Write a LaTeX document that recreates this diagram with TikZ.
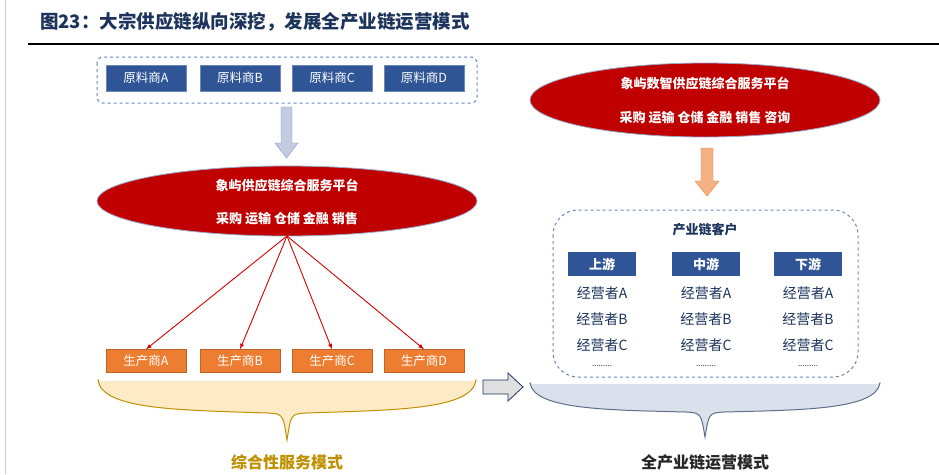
\documentclass[tikz,border=0pt]{standalone}
\usepackage{fontspec}
\setmainfont{Noto Sans CJK SC}
\usetikzlibrary{shapes.geometric}
\definecolor{nav}{HTML}{2F5597}
\definecolor{dred}{HTML}{C00000}
\definecolor{org}{HTML}{ED7D31}
\definecolor{gold}{HTML}{BF9000}
\begin{document}
\begin{tikzpicture}[x=1pt,y=-1pt,
 bb/.style={fill=nav,draw=nav!70,text=white,minimum width=80pt,minimum height=26pt,inner sep=0,font=\fontsize{12.5}{13}\selectfont},
 ob/.style={fill=org,draw=org!80!black,text=white,minimum width=80pt,minimum height=23pt,inner sep=0,font=\fontsize{12.5}{13}\selectfont},
 hb/.style={fill=nav,text=white,minimum width=68pt,minimum height=24pt,inner sep=0,font=\bfseries\fontsize{13}{14}\selectfont},
 it/.style={text=nav!60!black,font=\fontsize{14}{15}\selectfont,inner sep=0},
 el/.style={ellipse,fill=dred,draw=nav!50,line width=0.8pt},
 wt/.style={text=white,font=\bfseries\fontsize{13}{14}\selectfont,inner sep=0},
 dbox/.style={draw=nav!70,dashed,line width=1pt},
 ln/.style={draw=red!85!black,line width=0.9pt,-latex}]
\useasboundingbox (0,0) rectangle (939,474);
\fill[white] (0,0) rectangle (939,474);
\draw[gray!40] (5,0) -- (5,474);
\node[anchor=west,text=nav!60!black,font=\bfseries\fontsize{18.5}{19}\selectfont,inner sep=0] (title) at (40,22) {图23：大宗供应链纵向深挖，发展全产业链运营模式};
\draw[line width=1.5pt] (28,44) -- (939,44);
% left
\draw[dbox,rounded corners=6pt] (97,57) rectangle (477,103);
\node[bb] (r1) at (146,78) {原料商A};
\node[bb] (r2) at (240,78) {原料商B};
\node[bb] (r3) at (332,78) {原料商C};
\node[bb] (r4) at (424,78) {原料商D};
\draw[fill=nav!30,draw=nav!60] (281,107) -- (292,107) -- (292,143) -- (298,143) -- (286.5,158) -- (275,143) -- (281,143) -- cycle;
\node[el,minimum width=380pt,minimum height=70pt] (e1) at (287,201) {};
\node[wt] (e1t) at (287,185) {象屿供应链综合服务平台};
\node[wt] (e1s) at (287,219) {采购\ 运输\ 仓储\ 金融\ 销售};
\node[ob] (p1) at (146,361) {生产商A};
\node[ob] (p2) at (240,361) {生产商B};
\node[ob] (p3) at (332,361) {生产商C};
\node[ob] (p4) at (424,361) {生产商D};
\coordinate (src) at (287,236);
\foreach \p in {p1,p2,p3,p4} \draw[ln] (src) -- (\p.north);
\draw[fill=yellow!30!orange!20,draw=gold,line width=1pt] (98,380) .. controls (102,410) and (180,410) .. (268,413) .. controls (283,414) .. (287,440) .. controls (291,414) .. (306,413) .. controls (394,410) and (472,410) .. (476,380) -- cycle;
\draw[white,line width=1.5pt] (99,380) -- (475,380);
\node[text=gold,font=\bfseries\fontsize{16}{17}\selectfont] (lab1) at (287,462) {综合性服务模式};
% middle arrow
\draw[fill=gray!25,draw=nav!60!black,line width=0.8pt] (483,380) -- (508,380) -- (508,373) -- (523,387) -- (508,401) -- (508,394) -- (483,394) -- cycle;
% right
\node[el,minimum width=350pt,minimum height=74pt] (e2) at (705,100) {};
\node[wt] (e2t) at (705,83) {象屿数智供应链综合服务平台};
\node[wt] (e2s) at (705,118) {采购\ 运输\ 仓储\ 金融\ 销售\ 咨询};
\draw[fill=org!60,draw=org] (701,148) -- (713,148) -- (713,181) -- (719,181) -- (707,196) -- (695,181) -- (701,181) -- cycle;
\draw[dbox,rounded corners=25pt] (553,210) rectangle (858,377);
\node[text=nav!60!black,font=\bfseries\fontsize{13}{14}\selectfont] (cu) at (705,230) {产业链客户};
\foreach \x/\h/\n in {602/上游/a,706/中游/b,808/下游/c}{
 \node[hb] (h\n) at (\x,264) {\h};
 \node[it] (\n1) at (\x,293) {经营者A};
 \node[it] (\n2) at (\x,319) {经营者B};
 \node[it] (\n3) at (\x,345) {经营者C};
 \node[it,font=\fontsize{8}{8}\selectfont] (\n4) at (\x,366) {.........};
}
\draw[fill=nav!18,draw=nav!60!black!70,line width=1pt] (530,383) .. controls (534,410) and (610,410) .. (686,412) .. controls (701,413) .. (705,437) .. controls (709,413) .. (724,412) .. controls (800,410) and (876,410) .. (880,383) -- cycle;
\draw[white,line width=1.5pt] (531,383) -- (879,383);
\node[text=gray!30!black,font=\bfseries\fontsize{16}{17}\selectfont] (lab2) at (705,462) {全产业链运营模式};
\end{tikzpicture}
\end{document}
